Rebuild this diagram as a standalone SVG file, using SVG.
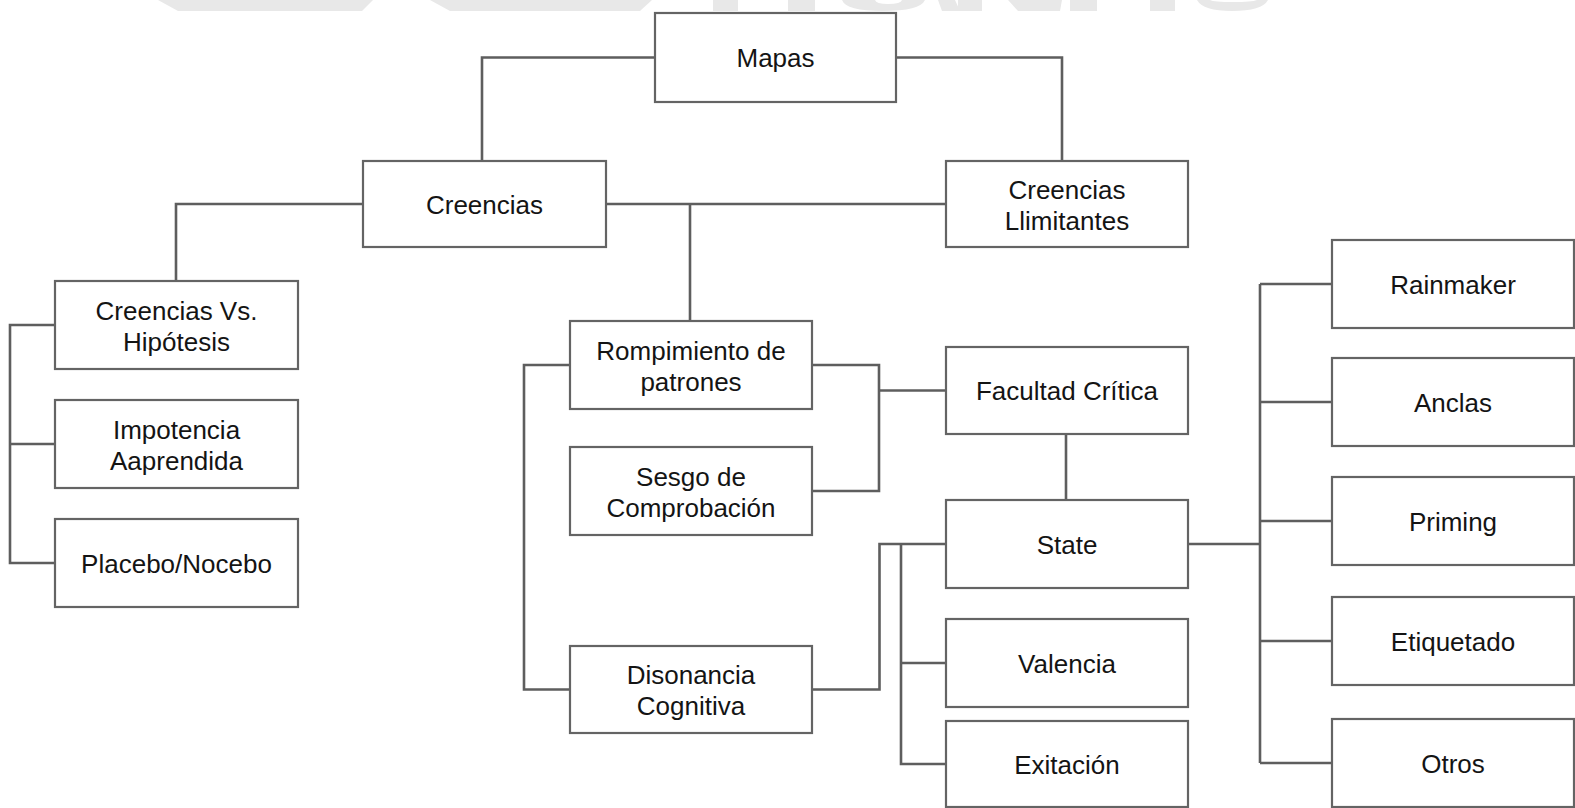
<svg xmlns="http://www.w3.org/2000/svg" width="1575" height="808" viewBox="0 0 1575 808">
  <style>
    .box rect { fill: #ffffff; stroke: #646464; stroke-width: 2.2; }
    .box text { font-family: "Liberation Sans", Arial, sans-serif; font-size: 26px; fill: #141414; text-anchor: middle; }
    #connectors path { fill: none; stroke: #5e5e5e; stroke-width: 2.6; stroke-linejoin: miter; }
    .mark { fill: #e8e8e8; }
  </style>

  <rect x="0" y="0" width="1575" height="808" fill="#ffffff"/>

  <!-- faint banner lettering along the top edge -->
  <g id="banner">
    <polygon class="mark" points="158,0 373,0 362,11 178,11"/>
    <polygon class="mark" points="430,0 652,0 640,11 450,11"/>
    <rect class="mark" x="713" y="0" width="25" height="11"/>
    <rect class="mark" x="788" y="0" width="27" height="11"/>
    <path class="mark" d="M842,0 H925 Q920,11 883,11 Q846,11 842,0 Z M875,0 Q876,4 888,4 Q901,4 902,0 Z" fill-rule="evenodd"/>
    <polygon class="mark" points="938,0 955,0 960,11 942,11"/>
    <rect class="mark" x="958" y="0" width="24" height="11"/>
    <polygon class="mark" points="1008,0 1062,0 1060,11 1018,11"/>
    <rect class="mark" x="1070" y="0" width="27" height="11"/>
    <rect class="mark" x="1150" y="0" width="25" height="11"/>
    <path class="mark" d="M1197,0 H1268 Q1262,11 1232,11 Q1203,11 1197,0 Z M1210,0 Q1214,2 1233,2 Q1252,2 1257,0 Z" fill-rule="evenodd"/>
  </g>

  <!-- connectors -->
  <g id="connectors">
    <path d="M655,57.5 H482 V161"/>
    <path d="M896,57.5 H1062 V161"/>
    <path d="M363,204 H176 V281"/>
    <path d="M606,204 H946"/>
    <path d="M690,204 V321"/>
    <path d="M55,325 H10 V563 H55"/>
    <path d="M10,444 H55"/>
    <path d="M570,365 H524 V689.5 H570"/>
    <path d="M812,365 H879 V491 H812"/>
    <path d="M879,390.5 H946"/>
    <path d="M1066,434 V500"/>
    <path d="M812,689.5 H879.5 V544 H946"/>
    <path d="M901,544 V764 H946"/>
    <path d="M901,663 H946"/>
    <path d="M1188,544 H1260"/>
    <path d="M1260,284 V763"/>
    <path d="M1260,284 H1332"/>
    <path d="M1260,402 H1332"/>
    <path d="M1260,521 H1332"/>
    <path d="M1260,641 H1332"/>
    <path d="M1260,763 H1332"/>
  </g>

  <!-- nodes -->
  <g id="mapas" class="box"><rect x="655" y="13" width="241" height="89"/><text x="775.5" y="67">Mapas</text></g>
  <g id="creencias" class="box"><rect x="363" y="161" width="243" height="86"/><text x="484.5" y="213.5">Creencias</text></g>
  <g id="creencias-llimitantes" class="box"><rect x="946" y="161" width="242" height="86"/><text x="1067" y="199">Creencias</text><text x="1067" y="230">Llimitantes</text></g>

  <g id="creencias-vs-hipotesis" class="box"><rect x="55" y="281" width="243" height="88"/><text x="176.5" y="319.5">Creencias Vs.</text><text x="176.5" y="350.5">Hipótesis</text></g>
  <g id="impotencia" class="box"><rect x="55" y="400" width="243" height="88"/><text x="176.5" y="438.5">Impotencia</text><text x="176.5" y="469.5">Aaprendida</text></g>
  <g id="placebo" class="box"><rect x="55" y="519" width="243" height="88"/><text x="176.5" y="572.5">Placebo/Nocebo</text></g>

  <g id="rompimiento" class="box"><rect x="570" y="321" width="242" height="88"/><text x="691" y="359.5">Rompimiento de</text><text x="691" y="390.5">patrones</text></g>
  <g id="sesgo" class="box"><rect x="570" y="447" width="242" height="88"/><text x="691" y="485.5">Sesgo de</text><text x="691" y="516.5">Comprobación</text></g>
  <g id="disonancia" class="box"><rect x="570" y="646" width="242" height="87"/><text x="691" y="684">Disonancia</text><text x="691" y="715">Cognitiva</text></g>

  <g id="facultad" class="box"><rect x="946" y="347" width="242" height="87"/><text x="1067" y="400">Facultad Crítica</text></g>
  <g id="state" class="box"><rect x="946" y="500" width="242" height="88"/><text x="1067" y="553.5">State</text></g>
  <g id="valencia" class="box"><rect x="946" y="619" width="242" height="88"/><text x="1067" y="672.5">Valencia</text></g>
  <g id="exitacion" class="box"><rect x="946" y="721" width="242" height="86"/><text x="1067" y="773.5">Exitación</text></g>

  <g id="rainmaker" class="box"><rect x="1332" y="240" width="242" height="88"/><text x="1453" y="293.5">Rainmaker</text></g>
  <g id="anclas" class="box"><rect x="1332" y="358" width="242" height="88"/><text x="1453" y="411.5">Anclas</text></g>
  <g id="priming" class="box"><rect x="1332" y="477" width="242" height="88"/><text x="1453" y="530.5">Priming</text></g>
  <g id="etiquetado" class="box"><rect x="1332" y="597" width="242" height="88"/><text x="1453" y="650.5">Etiquetado</text></g>
  <g id="otros" class="box"><rect x="1332" y="719" width="242" height="88"/><text x="1453" y="772.5">Otros</text></g>
</svg>
